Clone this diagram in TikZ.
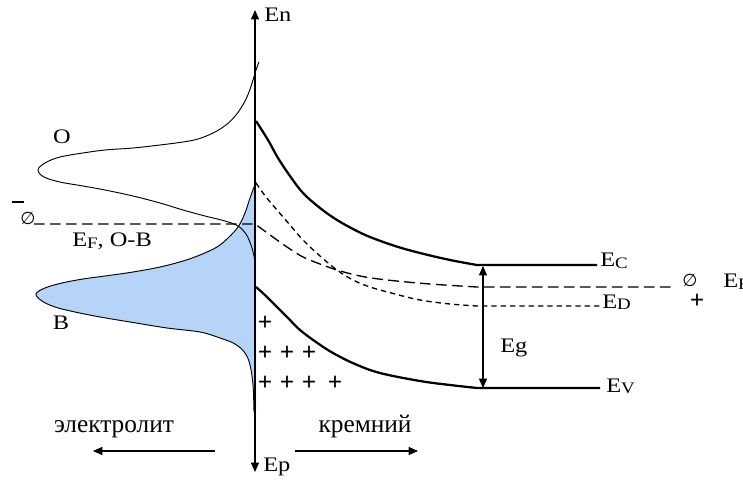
\documentclass[tikz,border=0pt]{standalone}
\usepackage{fontspec}
\setmainfont{Liberation Serif}
\newfontfamily\lblfont{Liberation Serif}[FakeStretch=1.18]
\newfontfamily\symbfont{DejaVu Sans}
\usetikzlibrary{arrows.meta,positioning}

\definecolor{bfill}{RGB}{182,211,248}
\newcommand{\lev}[1]{E\raisebox{-1.5pt}{\fontsize{12}{13}\selectfont #1}}

\begin{document}
\begin{tikzpicture}[
  x=0.75pt, y=-0.75pt,
  font=\lblfont\fontsize{15.5}{17}\selectfont,
  axisline/.style={line width=1pt, {Triangle[length=7pt,width=6pt]}-{Triangle[length=7pt,width=6pt]}},
  dos/.style={line width=0.7pt},
  band/.style={line width=1.7pt},
  fermi/.style={line width=1pt, dash pattern=on 8pt off 4pt},
  donor/.style={line width=1pt, dash pattern=on 4pt off 3pt},
  dirarrow/.style={line width=0.8pt, -{Triangle[length=7pt,width=6pt]}},
  lbl/.style={inner sep=0pt, anchor=base west},
  tag/.style={inner sep=0pt},
  charge/.style={inner sep=0pt, font=\fontsize{19}{19}\selectfont\bfseries},
  side/.style={inner sep=0pt, anchor=base, font=\rmfamily\fontsize{19}{21}\selectfont}
]
\useasboundingbox (0,0) rectangle (743,481);

% filled part of B
\fill[bfill] (256,182) plot[smooth, tension=0.6] coordinates {(256,182) (250,198) (245,213) (238,227) (228,238) (217,247) (200,255) (183,261) (160,267) (133,272) (105,276) (83,279) (62,283) (45,288) (36,294) (42,301) (55,307) (75,312) (100,317) (130,322) (167,328) (200,332) (220,338) (235,344) (245,353) (250,365) (253,385) (254,412)} -- (256,412) -- cycle;
\draw[dos] plot[smooth, tension=0.6] coordinates {(256,182) (250,198) (245,213) (238,227) (228,238) (217,247) (200,255) (183,261) (160,267) (133,272) (105,276) (83,279) (62,283) (45,288) (36,294) (42,301) (55,307) (75,312) (100,317) (130,322) (167,328) (200,332) (220,338) (235,344) (245,353) (250,365) (253,385) (254,412)};

% O
\draw[dos] plot[smooth, tension=0.6] coordinates {(259,62) (256,70) (253,80) (249,92) (244,103) (236,115) (226,125) (213,133) (198,139) (183,142) (160,145) (133,148) (105,150) (83,153) (60,157) (45,163) (38,170) (44,177) (60,182) (83,186) (105,190) (133,196) (160,203) (183,210) (205,216) (225,221) (238,226) (246,234) (251,245) (254,256) (255,264)};

% axis
\coordinate (etop) at (255,10);
\coordinate (ebot) at (255,472);
\draw[axisline] (ebot) -- (etop);
\node[lbl] (en) at (264,22) {En};
\node[lbl] (ep) at (263,471) {Ep};

% bands
\coordinate (cend) at (597,265);
\coordinate (vend) at (600,388);
\draw[band] plot[smooth, tension=0.6] coordinates {(256,121) (268,140) (278,158) (290,176) (303,193) (320,208) (337,220) (355,230) (370,237) (395,246) (420,253) (450,260) (477,265)} -- (cend);
\draw[band] plot[smooth, tension=0.6] coordinates {(256,287) (266,296) (277,307) (288,318) (300,330) (316,342) (333,353) (355,364) (380,373) (420,381) (450,385) (477,388)} -- (vend);

\coordinate (fleft) at (34,224);
\coordinate (fright) at (675,287);
\coordinate (dend) at (600,306);
\draw[fermi] (fleft) -- (255,224) -- plot[smooth, tension=0.6] coordinates {(255,224) (266,232) (277,240) (290,249) (303,257) (320,264) (337,270) (360,276) (387,280) (430,284) (477,287)} -- (fright);
\draw[donor] plot[smooth, tension=0.6] coordinates {(256,183) (266,197) (277,210) (290,225) (303,240) (320,256) (337,270) (353,280) (370,287) (395,294) (420,300) (450,304) (477,306)} -- (dend);

% Eg
\coordinate (gtop) at (483,266);
\coordinate (gbot) at (483,388);
\draw[axisline] (gbot) -- (gtop);
\node[lbl] (eg) at (500,352) {Eg};

% labels
\node[lbl] (ec) at (600,267) {\lev{C}};
\node[lbl] (ed) at (602,308) {\lev{D}};
\node[lbl] (ev) at (606,392) {\lev{V}};
\node[lbl] (efr) at (723,287) {\lev{F}};
\node[lbl] (efl) at (72,247) {\lev{F}, O-B};
\node[tag] (o) at (62,137) {O};
\node[tag] (b) at (61,323) {B};
\node[tag, font=\symbfont\fontsize{13}{13}\selectfont] (nulll) at (28,218) {∅};
\node[tag, font=\symbfont\fontsize{13}{13}\selectfont] (nullr) at (690,280) {∅};
\node[tag] (minus) at (18,202) {\rule{9pt}{2.2pt}};
\node[charge] (plusr) at (697,301) {+};

% space charge
\foreach \px/\py in {265/323, 265/353, 287/353, 309/353, 265/383, 287/383, 309/383, 335/383}
  \node[charge] at (\px,\py) {+};

% sides
\node[side] (elec) at (114,432) {электролит};
\node[side] (si) at (365,432) {кремний};
\coordinate (la) at (215,451);
\coordinate (lb) at (93,451);
\coordinate (ra) at (295,451);
\coordinate (rb) at (418,451);
\draw[dirarrow] (la) -- (lb);
\draw[dirarrow] (ra) -- (rb);
\end{tikzpicture}
\end{document}
